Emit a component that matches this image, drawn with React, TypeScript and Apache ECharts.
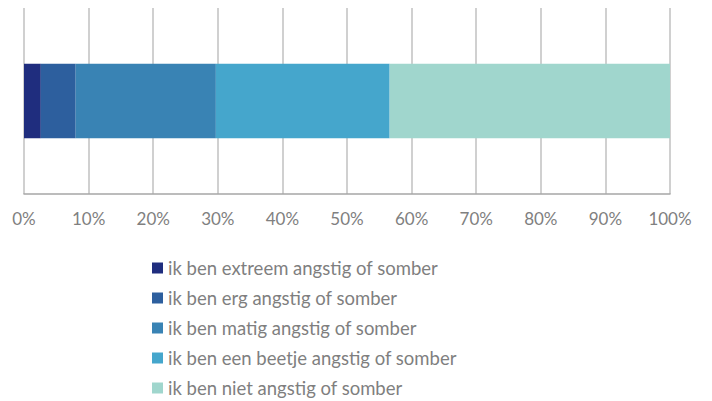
import React, { useEffect, useRef } from "react";
import * as echarts from "echarts";

const categories = [""];
const seriesNames = [
  "ik ben extreem angstig of somber",
  "ik ben erg angstig of somber",
  "ik ben matig angstig of somber",
  "ik ben een beetje angstig of somber",
  "ik ben niet angstig of somber",
];
const seriesValues = [2.6, 5.4, 21.7, 26.9, 43.4];
const colors = ["#1f2d7e", "#2d5f9e", "#3983b4", "#45a6cc", "#a0d6cd"];

export default function App() {
  const ref = useRef<HTMLDivElement>(null);
  useEffect(() => {
    if (!ref.current) return;
    const chart = echarts.init(ref.current, undefined, { renderer: "svg" });
    chart.setOption({
      animation: false,
      textStyle: { fontFamily: "Lato" },
      grid: { left: 24, right: 42, top: 8, bottom: 207, containLabel: false },
      legend: {
        orient: "vertical",
        left: 152,
        top: 258,
        padding: 0,
        height: 143,
        itemWidth: 11,
        itemHeight: 11,
        itemGap: 10,
        icon: "rect",
        textStyle: { color: "#7f7f7f", fontSize: 18.5, lineHeight: 20, fontFamily: "Lato" },
        data: seriesNames,
      },
      xAxis: {
        type: "value",
        min: 0,
        max: 100,
        interval: 10,
        axisLabel: {
          formatter: "{value}%",
          color: "#808080",
          fontSize: 17,
          margin: 16,
          fontFamily: "Lato",
        },
        axisTick: { show: false },
        axisLine: { show: true, lineStyle: { color: "#a6a6a6", width: 1.5 } },
        splitLine: { show: true, lineStyle: { color: "#c0c0c0", width: 1.5 } },
      },
      yAxis: {
        type: "category",
        data: categories,
        axisLine: { show: false },
        axisTick: { show: false },
        axisLabel: { show: false },
      },
      series: seriesNames.map((name, i) => ({
        name,
        type: "bar",
        stack: "total",
        barWidth: "40%",
        itemStyle: { color: colors[i] },
        data: [seriesValues[i]],
      })),
    });
    return () => chart.dispose();
  }, []);
  return (
    <div
      ref={ref}
      style={{ position: "absolute", left: 0, top: 0, width: 712, height: 401 }}
    />
  );
}
